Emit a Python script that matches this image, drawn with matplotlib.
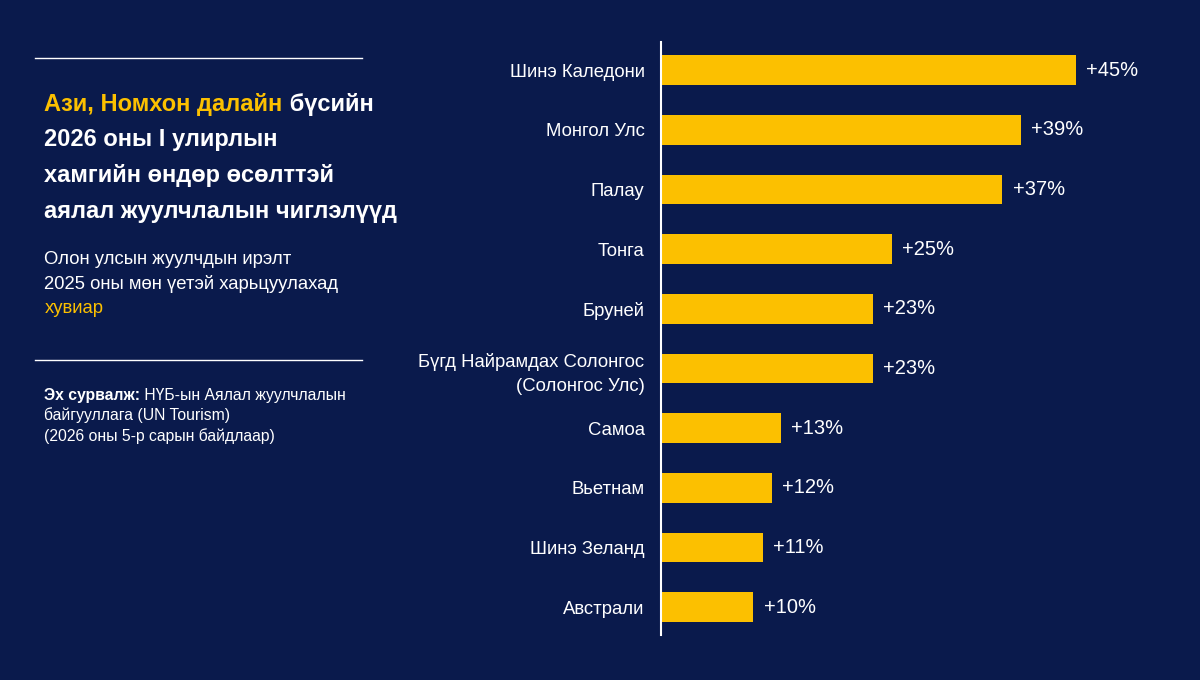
import matplotlib
matplotlib.use("Agg")
import matplotlib.pyplot as plt

plt.rcParams['font.family'] = ['Liberation Sans', 'DejaVu Sans']

# data
countries = ["Шинэ Каледони", "Монгол Улс", "Палау", "Тонга", "Бруней",
             "Бүгд Найрамдах Солонгос\n(Солонгос Улс)", "Самоа", "Вьетнам",
             "Шинэ Зеланд", "Австрали"]
growth = [45, 39, 37, 25, 23, 23, 13, 12, 11, 10]

bg = "#0a1a4c"
gold = "#fcc000"

fig = plt.figure(figsize=(12, 6.8), dpi=100, facecolor=bg)

# bar chart
ax = fig.add_axes([0.551, 0.066, 0.438, 0.872])
ax.set_facecolor(bg)
pos = list(range(len(countries)))
ax.barh(pos, growth, height=0.5, color=gold)
ax.set_xlim(0, 57)
ax.set_ylim(len(countries) - 0.53, -0.47)
ax.set_yticks(pos)
ax.set_yticklabels(countries, color="white", fontsize=13.3, linespacing=1.55)
ax.tick_params(axis="y", length=0, pad=12)
ax.set_xticks([])
for s in ["top", "right", "bottom"]:
    ax.spines[s].set_visible(False)
ax.spines["left"].set_color("white")
ax.spines["left"].set_linewidth(1.5)
for i, v in enumerate(growth):
    ax.text(v + 1.1, i, f"+{v}%", color="white", fontsize=14.5, va="center")

# left panel
fig.add_artist(plt.Line2D([0.029, 0.302], [0.915, 0.915], color="white", lw=1))
fig.add_artist(plt.Line2D([0.029, 0.302], [0.47, 0.47], color="white", lw=1))

tsize = 17
t1 = fig.text(0.037, 0.847, "Ази, Номхон далайн", color=gold, fontsize=tsize,
              fontweight="bold", va="center")
plt.annotate(" бүсийн", xy=(1, 0), xycoords=t1, va="bottom", ha="left",
             color="white", fontsize=tsize, fontweight="bold")
title_rest = ["2026 оны I улирлын", "хамгийн өндөр өсөлттэй",
              "аялал жуулчлалын чиглэлүүд"]
for k, line in enumerate(title_rest):
    fig.text(0.037, 0.847 - (k + 1) * 0.0525, line, color="white",
             fontsize=tsize, fontweight="bold", va="center")

fig.text(0.037, 0.618, "Олон улсын жуулчдын ирэлт", color="white",
         fontsize=13.3, va="center")
fig.text(0.037, 0.582, "2025 оны мөн үетэй харьцуулахад", color="white",
         fontsize=13.3, va="center")
fig.text(0.037, 0.546, "хувиар", color=gold, fontsize=13.3, va="center")

ssize = 11.3
t2 = fig.text(0.037, 0.418, "Эх сурвалж:", color="white", fontsize=ssize,
              fontweight="bold", va="center")
plt.annotate(" НҮБ-ын Аялал жуулчлалын", xy=(1, 0), xycoords=t2,
             va="bottom", ha="left", color="white", fontsize=ssize)
fig.text(0.037, 0.389, "байгууллага (UN Tourism)", color="white",
         fontsize=ssize, va="center")
fig.text(0.037, 0.359, "(2026 оны 5-р сарын байдлаар)", color="white",
         fontsize=ssize, va="center")

fig.savefig("out.png", facecolor=bg)
